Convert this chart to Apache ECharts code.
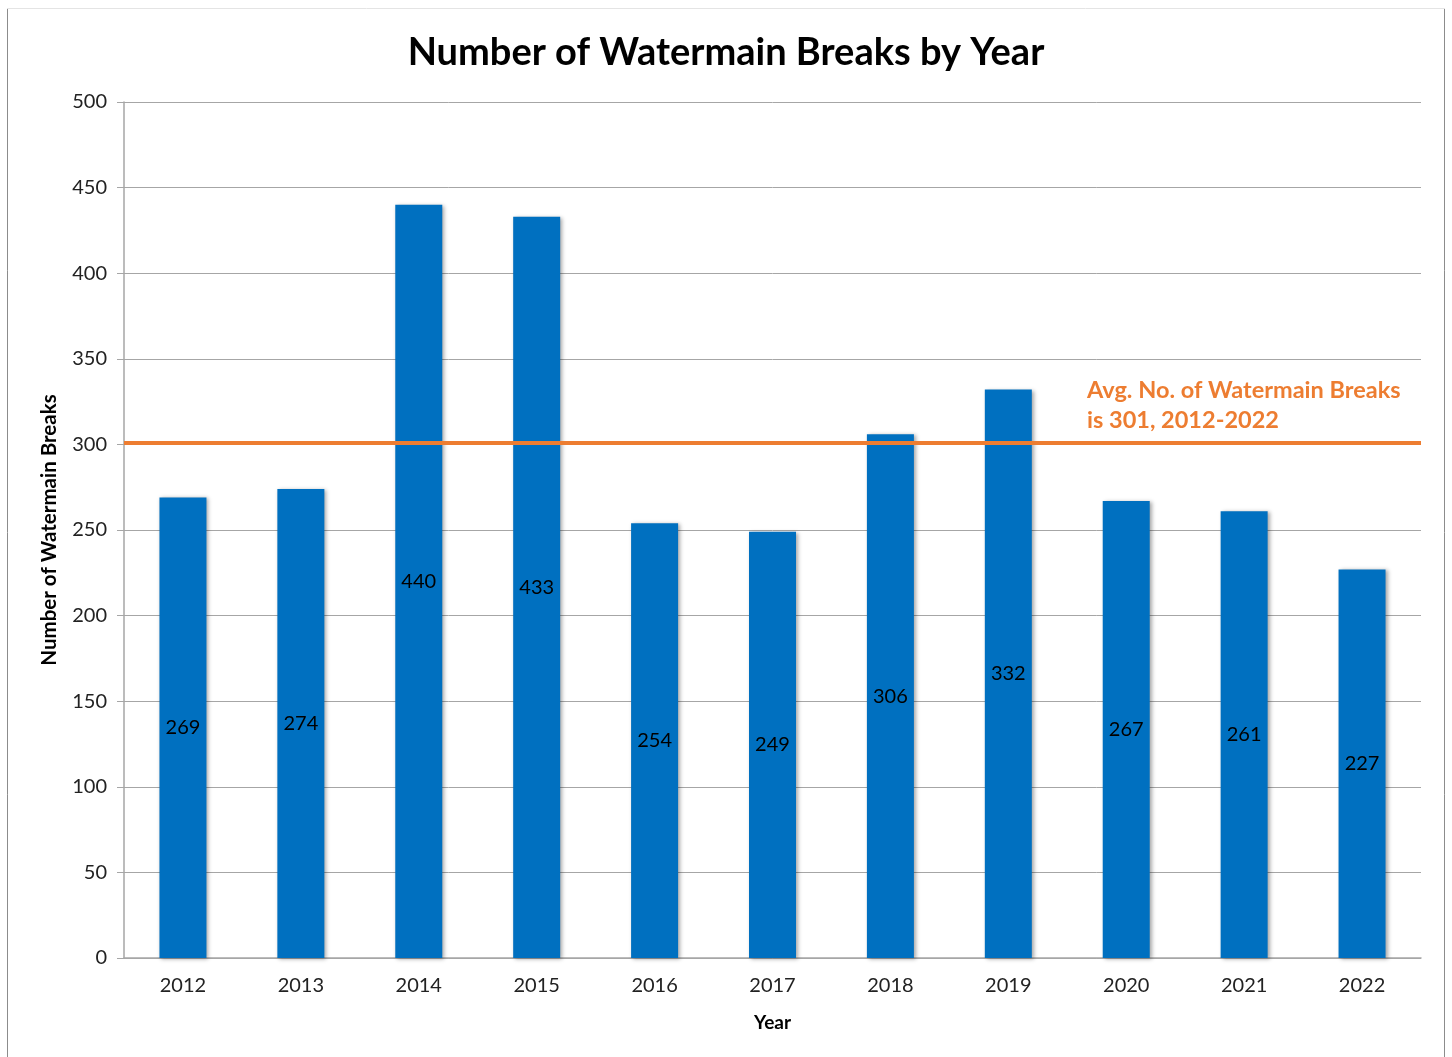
<!DOCTYPE html>
<html>
<head>
    <meta charset="utf-8">
    <title>Watermain Breaks</title>
    <script src="https://cdn.jsdelivr.net/npm/echarts@6/dist/echarts.min.js"></script>
</head>
<style>
    *{ padding: 0; margin: 0; }
    #main { width: 1452px; height: 1057px; position: absolute; }
</style>
<body>
    <div id="main"></div>
    <script type="text/javascript">
    var years = ['2012', '2013', '2014', '2015', '2016', '2017', '2018', '2019', '2020', '2021', '2022'];
    var breaks = [269, 274, 440, 433, 254, 249, 306, 332, 267, 261, 227];
    var avgBreaks = 301;
    var yTicks = [0, 50, 100, 150, 200, 250, 300, 350, 400, 450, 500];

    var font = 'Lato, "Noto Sans", sans-serif';
    var myChart = echarts.init(document.getElementById('main'));

    var option = {
        backgroundColor: '#fff',
        animation: false,
        title: {
            text: 'Number of Watermain Breaks by Year',
            left: 'center',
            top: 29,
            textStyle: { fontFamily: font, fontSize: 38, fontWeight: 'bold', color: '#000' }
        },
        grid: { left: 124, top: 102, width: 1297, height: 856 },
        graphic: [
            { type: 'line', shape: { x1: 7.5, y1: 8, x2: 7.5, y2: 1057 }, style: { stroke: '#8c8c8c', lineWidth: 1 } },
            { type: 'line', shape: { x1: 1444.5, y1: 8, x2: 1444.5, y2: 1057 }, style: { stroke: '#8c8c8c', lineWidth: 1 } },
            { type: 'line', shape: { x1: 7, y1: 8.5, x2: 1445, y2: 8.5 }, style: { stroke: '#e4e4e4', lineWidth: 1 } },
            {
                type: 'text', left: 1087, top: 375,
                style: {
                    text: 'Avg. No. of Watermain Breaks\nis ' + avgBreaks + ', 2012-2022',
                    fill: '#ED7D31', font: 'bold 23.5px ' + font, lineHeight: 30
                }
            }
        ],
        xAxis: {
            type: 'category',
            data: years,
            name: 'Year',
            nameLocation: 'middle',
            nameGap: 55,
            nameTextStyle: { fontFamily: font, fontSize: 19, fontWeight: 'bold', color: '#000' },
            axisLine: { lineStyle: { color: '#a6a6a6', width: 1.5 } },
            axisTick: { show: false },
            axisLabel: { fontFamily: font, fontSize: 20, color: '#222', margin: 18 }
        },
        yAxis: {
            type: 'value',
            min: yTicks[0],
            max: yTicks[yTicks.length - 1],
            interval: 50,
            name: 'Number of Watermain Breaks',
            nameLocation: 'middle',
            nameGap: 64,
            nameTextStyle: { fontFamily: font, fontSize: 20.5, fontWeight: 'bold', color: '#000' },
            axisLine: { show: true, lineStyle: { color: '#a6a6a6', width: 1.5 } },
            axisTick: { show: true, length: 7, lineStyle: { color: '#a6a6a6' } },
            splitLine: { lineStyle: { color: '#a6a6a6', width: 1 } },
            axisLabel: { fontFamily: font, fontSize: 20, color: '#222', margin: 17 }
        },
        series: [{
            type: 'bar',
            data: breaks,
            barWidth: 47,
            itemStyle: {
                color: '#0070C0',
                shadowBlur: 4,
                shadowColor: 'rgba(0,0,0,0.35)',
                shadowOffsetX: 2,
                shadowOffsetY: 1
            },
            label: {
                show: true,
                position: 'inside',
                fontFamily: font,
                fontSize: 20,
                color: '#000'
            },
            markLine: {
                symbol: 'none',
                silent: true,
                label: { show: false },
                lineStyle: { color: '#ED7D31', width: 4, type: 'solid' },
                data: [{ yAxis: avgBreaks }]
            }
        }]
    };
    myChart.setOption(option);
    </script>
</body>
</html>
